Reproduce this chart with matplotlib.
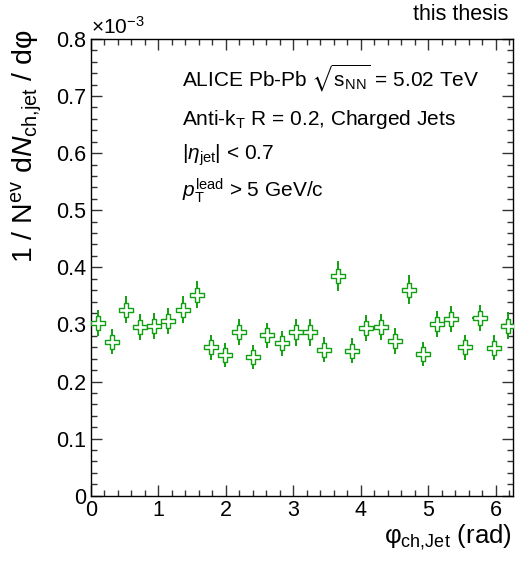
import numpy as np
import matplotlib
matplotlib.use('Agg')
import matplotlib.pyplot as plt
from matplotlib.path import Path
from matplotlib.ticker import MultipleLocator

# phi bins: 30 bins over [0, 2pi]
n_bins = 30
bin_width = 2 * np.pi / n_bins
phi = (np.arange(n_bins) + 0.5) * bin_width

# 1/N_ev dN/dphi in units of 1e-3
dndphi = [0.302, 0.270, 0.326, 0.295, 0.297, 0.306, 0.326, 0.352, 0.260, 0.247,
          0.287, 0.243, 0.281, 0.267, 0.286, 0.286, 0.256, 0.385, 0.254, 0.294,
          0.295, 0.271, 0.361, 0.249, 0.301, 0.309, 0.260, 0.311, 0.259, 0.298]
dndphi_err = [0.023, 0.022, 0.024, 0.023, 0.023, 0.023, 0.024, 0.024, 0.022, 0.021,
              0.023, 0.021, 0.022, 0.022, 0.023, 0.023, 0.022, 0.026, 0.022, 0.023,
              0.023, 0.022, 0.025, 0.021, 0.023, 0.023, 0.022, 0.023, 0.022, 0.023]

plt.rcParams['font.family'] = ['Liberation Sans', 'DejaVu Sans']
plt.rcParams['mathtext.fontset'] = 'custom'
plt.rcParams['mathtext.rm'] = 'Liberation Sans'
plt.rcParams['mathtext.it'] = 'Liberation Sans:italic'
plt.rcParams['mathtext.bf'] = 'Liberation Sans:bold'
plt.rcParams['mathtext.fallback'] = 'stixsans'

green = '#11a011'

# open cross marker (ROOT style 28)
a = 0.33
cross = Path([(-a, 1), (a, 1), (a, a), (1, a), (1, -a), (a, -a), (a, -1), (-a, -1),
              (-a, -a), (-1, -a), (-1, a), (-a, a), (-a, 1)])

fig = plt.figure(figsize=(5.15, 5.64), dpi=100)
ax = fig.add_axes([0.1761, 0.1211, 0.9955 - 0.1761, 0.9309 - 0.1211])

ax.errorbar(phi, dndphi, yerr=dndphi_err, xerr=bin_width / 2, fmt='none',
            ecolor=green, elinewidth=1.4, capsize=0, zorder=2)
ax.plot(phi, dndphi, linestyle='none', marker=cross, markersize=9.5,
        markerfacecolor='white', markeredgecolor=green, markeredgewidth=1.0, zorder=3)

ax.set_xlim(0, 6.25)
ax.set_ylim(0, 0.8)
ax.xaxis.set_major_locator(MultipleLocator(1))
ax.xaxis.set_minor_locator(MultipleLocator(0.2))
ax.yaxis.set_major_locator(MultipleLocator(0.1))
ax.yaxis.set_minor_locator(MultipleLocator(0.02))
ax.yaxis.set_major_formatter(plt.FuncFormatter(lambda v, p: '0' if v == 0 else '%g' % v))
ax.tick_params(which='both', direction='in', top=True, right=True, labelsize=15.5,
               width=1.0, color='#333333')
ax.tick_params(which='major', length=8)
ax.tick_params(which='minor', length=4)
ax.tick_params(axis='x', pad=3)
ax.tick_params(axis='y', pad=3)
for s in ax.spines.values():
    s.set_linewidth(1.0)

fig.text(91 / 515, 1 - 34 / 564, r'$\times$10$^{-3}$', fontsize=15, ha='left', va='baseline')
fig.text(508 / 515, 1 - 20 / 564, 'this thesis', fontsize=15.5, ha='right', va='baseline')

fig.text(512 / 515, 1 - 543 / 564, r'$\mathrm{\varphi_{ch{,}Jet}}$ (rad)', fontsize=18.5,
         ha='right', va='baseline')
fig.text(27 / 515, 1 - 29 / 564,
         r'1 / N$^{\mathrm{ev}}$ d$N_{\mathrm{ch{,}jet}}$ / d$\mathrm{\varphi}$',
         fontsize=20.5, rotation=90, ha='center', va='top')

tx = 0.216
ax.text(tx, 0.895, r'ALICE Pb-Pb $\sqrt{\mathrm{s_{NN}}}$ = 5.02 TeV', transform=ax.transAxes,
        fontsize=15, va='baseline')
ax.text(tx, 0.812, r'Anti-k$_{\mathrm{T}}$ R = 0.2, Charged Jets', transform=ax.transAxes,
        fontsize=15, va='baseline')
ax.text(tx, 0.735, r'|$\eta_{\mathrm{jet}}$| < 0.7', transform=ax.transAxes,
        fontsize=15, va='baseline')
ax.text(tx, 0.654, r'$p_{\mathrm{T}}^{\mathrm{lead}}$ > 5 GeV/c', transform=ax.transAxes,
        fontsize=15, va='baseline')

fig.savefig('out.png', dpi=100)
